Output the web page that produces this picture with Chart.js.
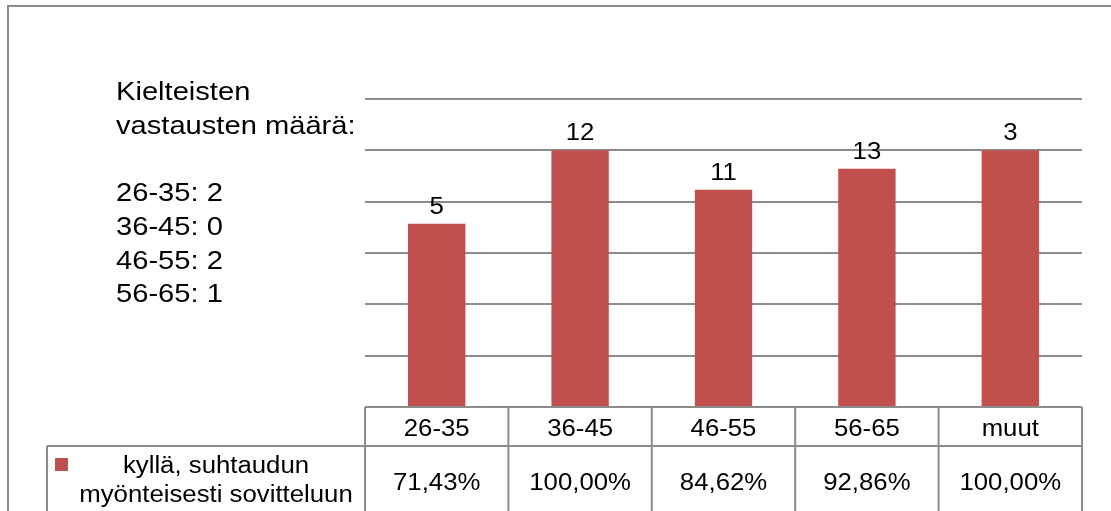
<!DOCTYPE html>
<html>
<head>
<meta charset="utf-8">
<script src="https://cdn.jsdelivr.net/npm/chart.js@4"></script>
<style>
  body { margin: 0; background: #fff; }
  #chart { display: block; }
</style>
</head>
<body>
<canvas id="chart" width="1111" height="511"></canvas>
<script>
(function() {
  "use strict";

  // data
  var categories = ["26-35", "36-45", "46-55", "56-65", "muut"];
  var shares = [71.43, 100.0, 84.62, 92.86, 100.0];
  var counts = [5, 12, 11, 13, 3];
  var seriesName = ["kyllä, suhtaudun", "myönteisesti sovitteluun"];
  var noteLines = [
    "Kielteisten",
    "vastausten määrä:",
    "",
    "26-35: 2",
    "36-45: 0",
    "46-55: 2",
    "56-65: 1",
  ];
  var yMax = 120;
  var yStep = 20;

  var barColor = "#c0504d";
  var lineColor = "#8c8c8c";
  var fontFamily = "'Liberation Sans', Arial, sans-serif";
  var stretch = 1.12;

  function pct(v) {
    return v.toFixed(2).replace(".", ",") + "%";
  }

  function text(ctx, str, x, y, size, align) {
    ctx.save();
    ctx.font = size + "px " + fontFamily;
    ctx.fillStyle = "#000";
    ctx.textBaseline = "alphabetic";
    ctx.textAlign = align || "left";
    ctx.translate(x, y);
    ctx.scale(stretch, 1);
    ctx.fillText(str, 0, 0);
    ctx.restore();
  }

  function line(ctx, x1, y1, x2, y2) {
    ctx.beginPath();
    ctx.moveTo(x1, y1);
    ctx.lineTo(x2, y2);
    ctx.stroke();
  }

  var extras = {
    id: "extras",
    afterDraw: function(chart) {
      var ctx = chart.ctx;
      var area = chart.chartArea;
      var x = chart.scales.x;
      var half = (x.getPixelForValue(1) - x.getPixelForValue(0)) / 2;

      // outer frame
      ctx.save();
      ctx.strokeStyle = lineColor;
      ctx.lineWidth = 2;
      ctx.strokeRect(8, 6, 1200, 600);
      ctx.restore();

      // note on the left
      noteLines.forEach(function(s, i) {
        if (s) text(ctx, s, 116, 100 + i * 33.7, 26, "left");
      });

      // count labels above the bars
      var meta = chart.getDatasetMeta(0);
      meta.data.forEach(function(bar, i) {
        text(ctx, String(counts[i]), bar.x, bar.y - 10, 23, "center");
      });

      // data table
      var top = area.bottom;
      var mid = top + 39;
      var bottom = chart.height + 5;
      ctx.save();
      ctx.strokeStyle = lineColor;
      ctx.lineWidth = 2;
      line(ctx, area.left, top, area.right, top);
      line(ctx, 47, mid, area.right, mid);
      line(ctx, 47, mid, 47, bottom);
      categories.forEach(function(c, i) {
        var cx = x.getPixelForValue(i);
        line(ctx, cx - half, top, cx - half, bottom);
        if (i === categories.length - 1) {
          line(ctx, cx + half, top, cx + half, bottom);
        }
      });
      ctx.restore();

      categories.forEach(function(c, i) {
        var cx = x.getPixelForValue(i);
        text(ctx, c, cx, top + 29, 23, "center");
        text(ctx, pct(shares[i]), cx, mid + 44, 23, "center");
      });

      // legend key inside the table
      ctx.save();
      ctx.fillStyle = barColor;
      ctx.fillRect(55, mid + 12, 13, 13);
      ctx.restore();
      text(ctx, seriesName[0], 216, mid + 27, 23, "center");
      text(ctx, seriesName[1], 216, mid + 56, 23, "center");
    },
  };

  new Chart(document.getElementById("chart").getContext("2d"), {
    type: "bar",
    data: {
      labels: categories,
      datasets: [
        {
          label: seriesName.join(" "),
          data: shares,
          backgroundColor: barColor,
          borderWidth: 0,
          categoryPercentage: 1,
          barPercentage: 0.4,
        },
      ],
    },
    options: {
      responsive: false,
      animation: false,
      devicePixelRatio: 1,
      layout: {
        padding: { left: 365, right: 29, top: 99, bottom: 104 },
      },
      scales: {
        x: {
          display: false,
        },
        y: {
          min: 0,
          max: yMax,
          ticks: { display: false, stepSize: yStep },
          grid: { color: lineColor, lineWidth: 2, drawTicks: false },
          border: { display: false },
        },
      },
      plugins: {
        legend: { display: false },
        tooltip: { enabled: false },
      },
    },
    plugins: [extras],
  });
})();
</script>
</body>
</html>
